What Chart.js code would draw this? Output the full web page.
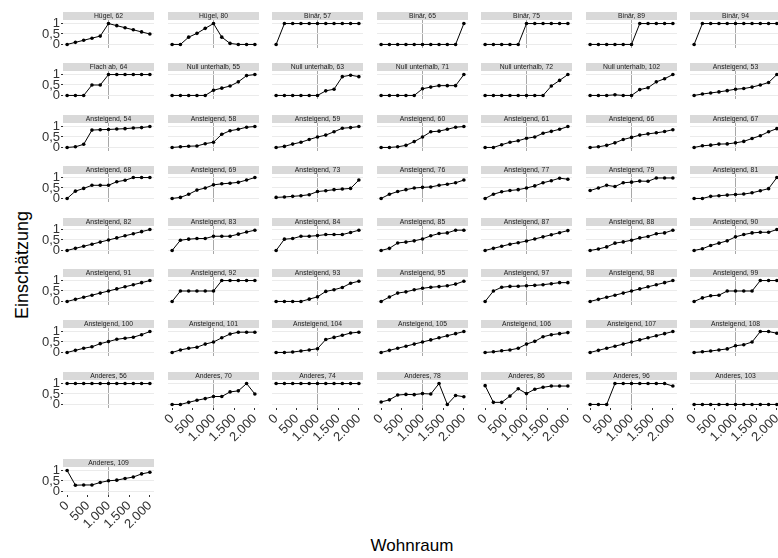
<!DOCTYPE html>
<html>
<head>
<meta charset="utf-8">
<script src="https://cdn.jsdelivr.net/npm/chart.js@4/dist/chart.umd.min.js"></script>
<style>
html,body{margin:0;padding:0;background:#fff;}
body{width:778px;height:558px;overflow:hidden;position:relative;font-family:"Liberation Sans",Arial,Helvetica,sans-serif;}
canvas{position:absolute;}
#ytitle{position:absolute;left:22px;top:265px;transform:translate(-50%,-50%) rotate(-90deg);font-size:18px;color:#000;white-space:nowrap;}
#xtitle{position:absolute;left:412px;top:546px;transform:translate(-50%,-50%);font-size:17px;color:#000;white-space:nowrap;}
</style>
</head>
<body>
<div id="ytitle">Einschätzung</div>
<div id="xtitle">Wohnraum</div>
<script>
// ---- data ----
const xValues = [0, 200, 400, 600, 800, 1000, 1200, 1400, 1600, 1800, 2000];
const xTickValues = [0, 500, 1000, 1500, 2000];
const xTickLabels = ['0', '500', '1.000', '1.500', '2.000'];
const yTickValues = [0, 0.5, 1];
const yTickLabels = ['0', '0,5', '1'];
const refLineX = 1000;

const row1Titles = ['Hügel, 62', 'Hügel, 80', 'Binär, 57', 'Binär, 65', 'Binär, 75', 'Binär, 89', 'Binär, 94'];
const row1Values = [
  [0, 0.1, 0.2, 0.3, 0.4, 1, 0.9, 0.8, 0.7, 0.6, 0.5],
  [0, 0, 0.35, 0.53, 0.77, 1, 0.35, 0.05, 0, 0, 0],
  [0, 1, 1, 1, 1, 1, 1, 1, 1, 1, 1],
  [0, 0, 0, 0, 0, 0, 0, 0, 0, 0, 1],
  [0, 0, 0, 0, 0, 1, 1, 1, 1, 1, 1],
  [0, 0, 0, 0, 0, 0, 1, 1, 1, 1, 1],
  [0, 1, 1, 1, 1, 1, 1, 1, 1, 1, 1]
];
const row2Titles = ['Flach ab, 64', 'Null unterhalb, 55', 'Null unterhalb, 63', 'Null unterhalb, 71', 'Null unterhalb, 72', 'Null unterhalb, 102', 'Ansteigend, 53'];
const row2Values = [
  [0, 0, 0, 0.5, 0.5, 1, 1, 1, 1, 1, 1],
  [0, 0, 0, 0, 0, 0.25, 0.35, 0.45, 0.65, 0.95, 1],
  [0, 0, 0, 0, 0, 0, 0.22, 0.3, 0.9, 0.97, 0.9],
  [0, 0, 0, 0, 0, 0.32, 0.4, 0.47, 0.47, 0.47, 1],
  [0, 0, 0, 0, 0, 0, 0, 0, 0.45, 0.72, 1],
  [0, 0, 0, 0.03, 0, 0, 0.28, 0.37, 0.65, 0.8, 1],
  [0, 0.07, 0.12, 0.17, 0.23, 0.3, 0.33, 0.4, 0.5, 0.62, 1]
];
const row3Titles = ['Ansteigend, 54', 'Ansteigend, 58', 'Ansteigend, 59', 'Ansteigend, 60', 'Ansteigend, 61', 'Ansteigend, 66', 'Ansteigend, 67'];
const row3Values = [
  [0, 0.03, 0.15, 0.83, 0.85, 0.86, 0.88, 0.9, 0.93, 0.95, 1],
  [0, 0.03, 0.06, 0.07, 0.18, 0.25, 0.63, 0.8, 0.87, 0.97, 1],
  [0, 0.05, 0.16, 0.25, 0.38, 0.5, 0.59, 0.75, 0.92, 0.95, 1],
  [0, 0, 0.03, 0.1, 0.28, 0.5, 0.75, 0.78, 0.87, 0.97, 1],
  [0, 0, 0.13, 0.25, 0.32, 0.44, 0.5, 0.68, 0.77, 0.87, 1],
  [0, 0.03, 0.1, 0.22, 0.38, 0.48, 0.59, 0.65, 0.7, 0.76, 0.85],
  [0, 0.08, 0.11, 0.16, 0.17, 0.22, 0.29, 0.43, 0.56, 0.75, 0.9]
];
const row4Titles = ['Ansteigend, 68', 'Ansteigend, 69', 'Ansteigend, 73', 'Ansteigend, 76', 'Ansteigend, 77', 'Ansteigend, 79', 'Ansteigend, 81'];
const row4Values = [
  [0, 0.35, 0.48, 0.63, 0.63, 0.63, 0.8, 0.87, 1, 1, 1],
  [0, 0.05, 0.2, 0.4, 0.5, 0.65, 0.7, 0.73, 0.77, 0.88, 1],
  [0.05, 0.07, 0.1, 0.13, 0.18, 0.33, 0.37, 0.42, 0.45, 0.48, 0.88],
  [0, 0.2, 0.33, 0.42, 0.5, 0.53, 0.55, 0.63, 0.68, 0.75, 0.88],
  [0, 0.2, 0.32, 0.38, 0.42, 0.5, 0.6, 0.75, 0.85, 0.97, 0.92],
  [0.38, 0.5, 0.63, 0.57, 0.75, 0.78, 0.83, 0.82, 0.98, 0.98, 0.98],
  [0, 0, 0.1, 0.13, 0.16, 0.19, 0.21, 0.27, 0.37, 0.47, 1]
];
const row5Titles = ['Ansteigend, 82', 'Ansteigend, 83', 'Ansteigend, 84', 'Ansteigend, 85', 'Ansteigend, 87', 'Ansteigend, 88', 'Ansteigend, 90'];
const row5Values = [
  [0, 0.1, 0.2, 0.3, 0.4, 0.5, 0.6, 0.7, 0.8, 0.9, 1],
  [0, 0.49, 0.54, 0.57, 0.57, 0.68, 0.68, 0.68, 0.78, 0.88, 0.97],
  [0, 0.54, 0.57, 0.68, 0.68, 0.71, 0.76, 0.76, 0.76, 0.86, 0.97],
  [0, 0.1, 0.36, 0.4, 0.46, 0.55, 0.7, 0.81, 0.84, 0.97, 0.97],
  [0, 0.1, 0.2, 0.3, 0.37, 0.45, 0.55, 0.65, 0.75, 0.85, 0.95],
  [0, 0.07, 0.17, 0.35, 0.41, 0.49, 0.6, 0.67, 0.8, 0.84, 0.97],
  [0, 0.08, 0.24, 0.35, 0.46, 0.65, 0.76, 0.84, 0.87, 0.87, 1]
];
const row6Titles = ['Ansteigend, 91', 'Ansteigend, 92', 'Ansteigend, 93', 'Ansteigend, 95', 'Ansteigend, 97', 'Ansteigend, 98', 'Ansteigend, 99'];
const row6Values = [
  [0, 0.1, 0.2, 0.3, 0.4, 0.5, 0.6, 0.7, 0.8, 0.9, 1],
  [0, 0.5, 0.5, 0.5, 0.5, 0.5, 1, 1, 1, 1, 1],
  [0, 0, 0, 0, 0.11, 0.22, 0.48, 0.56, 0.67, 0.87, 0.97],
  [0, 0.21, 0.4, 0.46, 0.56, 0.63, 0.68, 0.71, 0.75, 0.83, 0.97],
  [0, 0.5, 0.68, 0.72, 0.73, 0.75, 0.77, 0.8, 0.85, 0.9, 0.9],
  [0, 0.1, 0.2, 0.3, 0.4, 0.5, 0.6, 0.7, 0.8, 0.9, 1],
  [0, 0.17, 0.27, 0.3, 0.5, 0.5, 0.5, 0.5, 1, 1, 1]
];
const row7Titles = ['Ansteigend, 100', 'Ansteigend, 101', 'Ansteigend, 104', 'Ansteigend, 105', 'Ansteigend, 106', 'Ansteigend, 107', 'Ansteigend, 108'];
const row7Values = [
  [0, 0.1, 0.2, 0.27, 0.42, 0.52, 0.63, 0.68, 0.73, 0.85, 1],
  [0, 0.12, 0.2, 0.25, 0.4, 0.5, 0.7, 0.88, 0.97, 0.97, 0.97],
  [0, 0, 0.02, 0.07, 0.12, 0.18, 0.62, 0.72, 0.82, 0.93, 0.97],
  [0, 0.1, 0.2, 0.3, 0.4, 0.5, 0.6, 0.7, 0.8, 0.9, 1],
  [0, 0.03, 0.08, 0.12, 0.2, 0.4, 0.53, 0.75, 0.85, 0.9, 0.95],
  [0, 0.1, 0.2, 0.3, 0.4, 0.5, 0.6, 0.7, 0.8, 0.9, 1],
  [0, 0.03, 0.07, 0.12, 0.17, 0.32, 0.37, 0.5, 1, 1, 0.92]
];
const row8Titles = ['Anderes, 56', 'Anderes, 70', 'Anderes, 74', 'Anderes, 78', 'Anderes, 86', 'Anderes, 96', 'Anderes, 103'];
const row8Values = [
  [1, 1, 1, 1, 1, 1, 1, 1, 1, 1, 1],
  [0, 0, 0.1, 0.2, 0.28, 0.38, 0.38, 0.6, 0.65, 1, 0.5],
  [1, 1, 1, 1, 1, 1, 1, 1, 1, 1, 1],
  [0.12, 0.22, 0.45, 0.48, 0.47, 0.52, 0.5, 1, 0, 0.43, 0.37],
  [0.9, 0.1, 0.1, 0.4, 0.75, 0.52, 0.73, 0.82, 0.88, 0.88, 0.88],
  [0, 0, 0, 1, 1, 1, 1, 1, 1, 1, 0.88],
  [0, 0, 0, 0, 0, 0, 0, 0, 0, 0, 0]
];
const row9Titles = ['Anderes, 109'];
const row9Values = [
  [1, 0.3, 0.31, 0.31, 0.43, 0.51, 0.54, 0.62, 0.69, 0.84, 0.92]
];

// ---- layout (positions only) ----
const colLeft = [63.3, 167.8, 272.3, 376.8, 481.3, 585.8, 690.3];
const rowTop = [12, 63, 115, 166, 218, 269, 320, 372, 459];
const PW = 91, STRIP = 8, PH = 28, YW = 40, XH = 44;
const FONT = '"Liberation Sans", Arial, Helvetica, sans-serif';

const rowsTitles = [row1Titles, row2Titles, row3Titles, row4Titles, row5Titles, row6Titles, row7Titles, row8Titles, row9Titles];
const rowsValues = [row1Values, row2Values, row3Values, row4Values, row5Values, row6Values, row7Values, row8Values, row9Values];

const stripPlugin = {
  id: 'strip',
  beforeDraw(chart) {
    const t = chart.titleBlock, a = chart.chartArea, ctx = chart.ctx;
    ctx.save();
    ctx.fillStyle = '#d9d9d9';
    ctx.fillRect(a.left, t.top, a.right - a.left, t.bottom - t.top);
    ctx.restore();
  }
};

function makePanel(title, values, r, c, lastRowInCol) {
  const showY = c === 0;
  const showX = lastRowInCol;
  const W = Math.round(YW + PW), H = STRIP + PH + XH;
  const cv = document.createElement('canvas');
  cv.width = W; cv.height = H;
  cv.style.width = W + 'px'; cv.style.height = H + 'px';
  cv.style.left = Math.round(colLeft[c] - YW) + 'px';
  cv.style.top = rowTop[r] + 'px';
  document.body.appendChild(cv);
  new Chart(cv, {
    type: 'line',
    data: {
      datasets: [{
        data: xValues.map((x, i) => ({ x: x, y: values[i] })),
        borderColor: '#000', backgroundColor: '#000',
        borderWidth: 1, pointRadius: 1.8, pointBorderWidth: 0,
        pointHoverRadius: 0, pointHitRadius: 0, tension: 0, clip: 4
      }]
    },
    options: {
      responsive: false, animation: false, events: [],
      layout: { padding: 0, autoPadding: false },
      plugins: {
        legend: { display: false },
        tooltip: { enabled: false },
        title: {
          display: true, text: title, fullSize: false, color: '#1a1a1a',
          font: { family: FONT, size: 6.8, lineHeight: 1, weight: 'normal' },
          padding: { top: 0.6, bottom: 0.6 }
        }
      },
      scales: {
        x: {
          type: 'linear', min: -100, max: 2100,
          afterBuildTicks: a => { a.ticks = xTickValues.map(v => ({ value: v })); },
          afterFit: a => { a.height = XH; a.paddingLeft = 0; a.paddingRight = 0; },
          border: { display: false },
          grid: {
            color: ctx => (ctx.tick && ctx.tick.value === refLineX) ? '#a8a8a8' : 'rgba(0,0,0,0)',
            lineWidth: 1, drawTicks: showX, tickLength: 2, tickColor: '#333'
          },
          ticks: {
            display: showX, autoSkip: false, minRotation: 45, maxRotation: 45, padding: 1,
            color: '#333', font: { family: FONT, size: 13 },
            callback: v => { const i = xTickValues.indexOf(v); return i >= 0 ? xTickLabels[i] : ''; }
          }
        },
        y: {
          min: -0.17, max: 1.17,
          afterBuildTicks: a => { a.ticks = yTickValues.map(v => ({ value: v })); },
          afterFit: a => { a.width = YW; a.paddingTop = 0; a.paddingBottom = 0; },
          border: { display: false },
          grid: { color: '#ebebeb', lineWidth: 1, drawTicks: showY, tickLength: 2, tickColor: '#333' },
          ticks: {
            display: showY, autoSkip: false, padding: 1, color: '#333', font: { family: FONT, size: 13, lineHeight: 1 },
            callback: v => { const i = yTickValues.indexOf(v); return i >= 0 ? yTickLabels[i] : ''; }
          }
        }
      }
    },
    plugins: [stripPlugin]
  });
}

const nRows = rowsTitles.length;
rowsTitles.forEach((titles, r) => {
  titles.forEach((t, c) => {
    const below = (r + 1 < nRows) && rowsTitles[r + 1].length > c;
    makePanel(t, rowsValues[r][c], r, c, !below);
  });
});
</script>
</body>
</html>
